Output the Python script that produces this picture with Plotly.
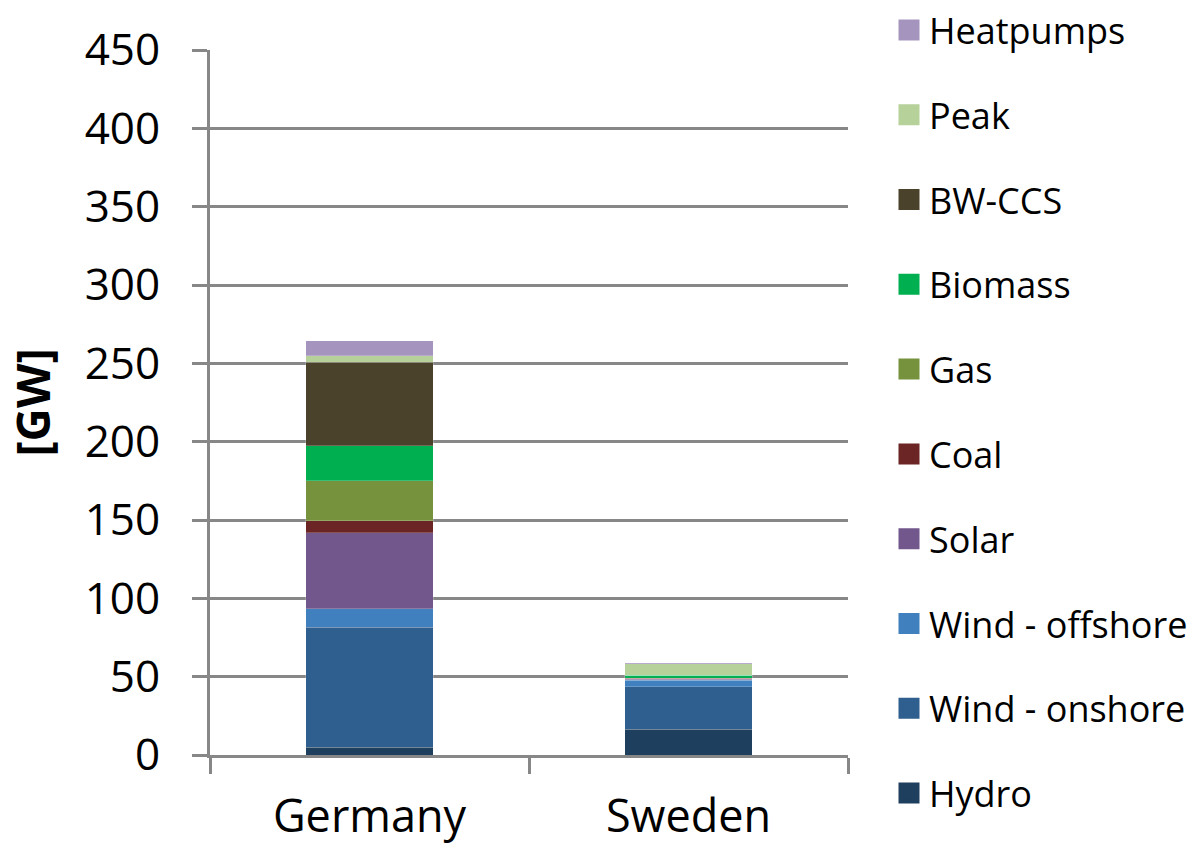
import plotly.graph_objects as go

countries = ["Germany", "Sweden"]
series = ["Hydro", "Wind - onshore", "Wind - offshore", "Solar", "Coal", "Gas",
          "Biomass", "BW-CCS", "Peak", "Heatpumps"]
hydro = [5.0, 16.4]
wind_onshore = [76.5, 27.2]
wind_offshore = [11.7, 4.0]
solar = [48.7, 0.8]
coal = [7.7, 0.5]
gas = [25.3, 0.0]
biomass = [22.5, 2.0]
bw_ccs = [53.2, 0.0]
peak = [4.3, 7.4]
heatpumps = [9.4, 0.5]
values = [hydro, wind_onshore, wind_offshore, solar, coal, gas, biomass, bw_ccs, peak, heatpumps]
colors = ["#1F3F5F", "#2E5F8E", "#4080BE", "#72578D", "#6B2525", "#76923C",
          "#00B050", "#4A422A", "#B6D19A", "#A595BE"]
y_ticks = [0, 50, 100, 150, 200, 250, 300, 350, 400, 450]

FONT = "Open Sans, DejaVu Sans, sans-serif"

fig = go.Figure()
n = len(series)
for i, (name, vals, col) in enumerate(zip(series, values, colors)):
    fig.add_trace(go.Bar(
        x=countries, y=vals, name=name, legendgroup=name, showlegend=False,
        marker=dict(color=col, line=dict(width=0.6, color="rgba(255,255,255,0.35)")),
        width=0.4,
    ))
    # legend entry with a larger square swatch
    fig.add_trace(go.Scatter(
        x=[None], y=[None], mode="markers", name=name, legendgroup=name,
        legendrank=n - i,
        marker=dict(symbol="square", size=16, color=col, line=dict(width=5, color=col)),
        hoverinfo="skip",
    ))

fig.update_layout(
    barmode="stack",
    width=1198, height=846,
    margin=dict(l=210, r=350, t=50, b=91, autoexpand=False),
    paper_bgcolor="white", plot_bgcolor="white",
    font=dict(family=FONT, color="black"),
    showlegend=True,
    legend=dict(
        traceorder="grouped",
        tracegroupgap=35,
        itemsizing="trace",
        maxheight=900,
        xref="container", yref="container",
        x=889 / 1198, y=1.024, xanchor="left", yanchor="top",
        font=dict(size=36, family=FONT),
        itemwidth=30,
        bgcolor="rgba(0,0,0,0)",
    ),
    xaxis=dict(
        automargin=False,
        showline=True, linecolor="#878787", linewidth=3,
        ticks="outside", tickson="boundaries", ticklen=16, tickwidth=3, tickcolor="#878787",
        tickfont=dict(size=45, family=FONT), ticklabelstandoff=20,
        showgrid=False,
    ),
    yaxis=dict(
        automargin=False,
        range=[0, 450], tickvals=y_ticks,
        showline=True, linecolor="#878787", linewidth=3,
        ticks="outside", ticklen=15, tickwidth=3, tickcolor="#878787",
        tickfont=dict(size=44, family=FONT), ticklabelstandoff=23,
        showgrid=True, gridcolor="#878787", gridwidth=3,
        zeroline=False,
        title=dict(text="<b>[GW]</b>", font=dict(size=46, family=FONT), standoff=20),
    ),
)

fig.write_html("out.html")
